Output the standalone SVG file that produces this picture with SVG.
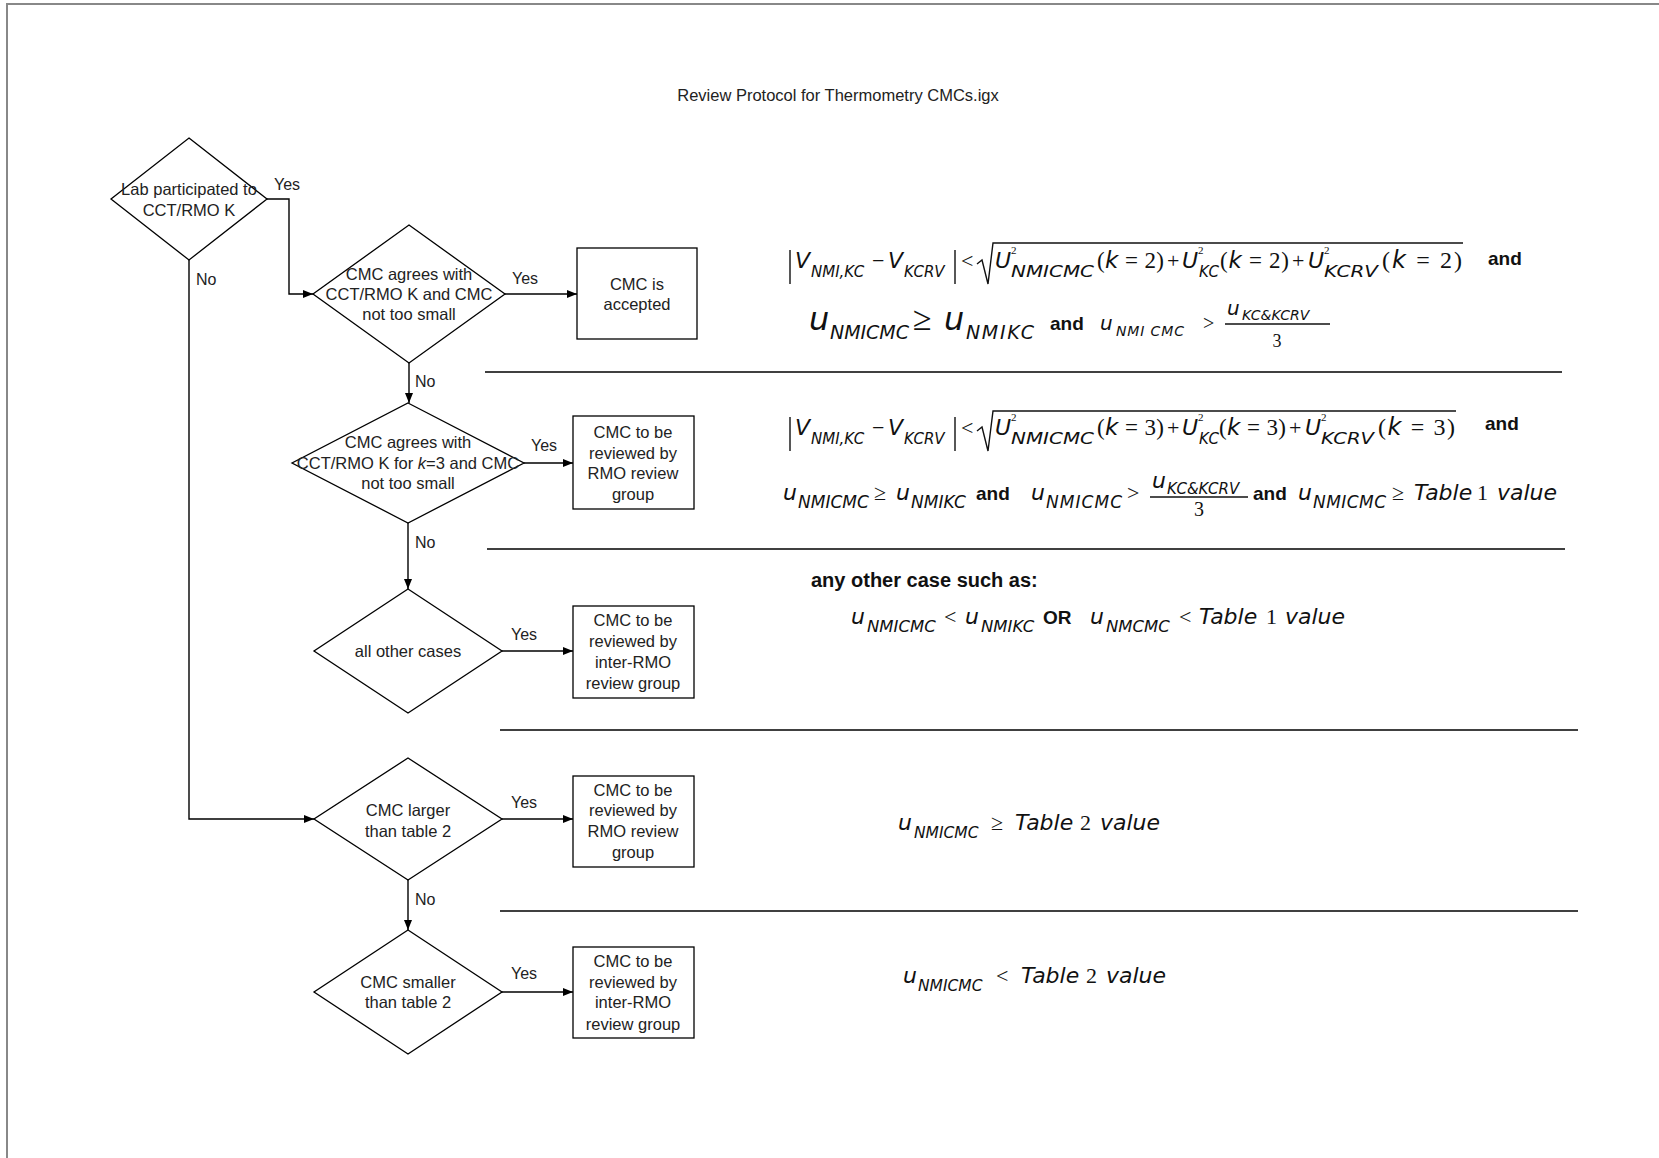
<svg xmlns="http://www.w3.org/2000/svg" width="1659" height="1158" viewBox="0 0 1659 1158">
<defs>
<marker id="arr" markerWidth="10" markerHeight="8" refX="10" refY="4" orient="auto" markerUnits="userSpaceOnUse"><path d="M0,0 L10,4 L0,8 z" fill="#000"/></marker>
<style>
.shape{fill:#fff;stroke:#000;stroke-width:1.3}
.con{fill:none;stroke:#000;stroke-width:1.4}
.sep{stroke:#000;stroke-width:1.6}
.nt{font-family:"Liberation Sans",Arial,sans-serif;font-size:16.5px;fill:#222;text-anchor:middle}
.lb{font-family:"Liberation Sans",Arial,sans-serif;font-size:16px;fill:#222}
.mi{font-family:"DejaVu Sans",Verdana,sans-serif;font-style:italic;fill:#111}
.mn{font-family:"Liberation Serif","Times New Roman",serif;fill:#111}
.b{font-family:"Liberation Sans",Arial,sans-serif;font-weight:bold;font-size:19px;fill:#111}
.rule{fill:none;stroke:#111;stroke-width:1.4}
</style>
</defs>
<rect x="0" y="0" width="1659" height="1158" fill="#fff"/>
<path d="M7,1158 V4 H1659" fill="none" stroke="#888" stroke-width="2"/>
<text x="838" y="101" class="nt">Review Protocol for Thermometry CMCs.igx</text>

<g id="connectors">
<path class="con" d="M267,199 H289 V294 H313" marker-end="url(#arr)"/>
<path class="con" d="M189,260 V819 H314" marker-end="url(#arr)"/>
<path class="con" d="M505,294 H577" marker-end="url(#arr)"/>
<path class="con" d="M409,363 V403" marker-end="url(#arr)"/>
<path class="con" d="M524,463 H573" marker-end="url(#arr)"/>
<path class="con" d="M408,523 V589" marker-end="url(#arr)"/>
<path class="con" d="M502,651 H573" marker-end="url(#arr)"/>
<path class="con" d="M502,819 H573" marker-end="url(#arr)"/>
<path class="con" d="M408,880 V930" marker-end="url(#arr)"/>
<path class="con" d="M502,992 H573" marker-end="url(#arr)"/>
<text class="lb" x="274" y="190">Yes</text>
<text class="lb" x="196" y="285">No</text>
<text class="lb" x="512" y="284">Yes</text>
<text class="lb" x="415" y="387">No</text>
<text class="lb" x="531" y="451">Yes</text>
<text class="lb" x="415" y="548">No</text>
<text class="lb" x="511" y="640">Yes</text>
<text class="lb" x="511" y="808">Yes</text>
<text class="lb" x="415" y="905">No</text>
<text class="lb" x="511" y="979">Yes</text>
</g>

<g id="d1"><path class="shape" d="M189,138 L267,199 L189,260 L111,199 Z"/>
<text class="nt" x="189" y="195">Lab participated to</text><text class="nt" x="189" y="216">CCT/RMO K</text></g>
<g id="d2"><path class="shape" d="M409,225 L505,294 L409,363 L313,294 Z"/>
<text class="nt" x="409" y="280">CMC agrees with</text><text class="nt" x="409" y="300">CCT/RMO K and CMC</text><text class="nt" x="409" y="320">not too small</text></g>
<g id="b2"><rect class="shape" x="577" y="248" width="120" height="91"/>
<text class="nt" x="637" y="290">CMC is</text><text class="nt" x="637" y="310">accepted</text></g>
<g id="d3"><path class="shape" d="M408,403 L524,463 L408,523 L292,463 Z"/>
<text class="nt" x="408" y="448">CMC agrees with</text><text class="nt" x="408" y="469">CCT/RMO K for <tspan font-style="italic">k</tspan>=3 and CMC</text><text class="nt" x="408" y="489">not too small</text></g>
<g id="b3"><rect class="shape" x="573" y="416" width="121" height="93"/>
<text class="nt" x="633" y="438">CMC to be</text><text class="nt" x="633" y="459">reviewed by</text><text class="nt" x="633" y="479">RMO review</text><text class="nt" x="633" y="500">group</text></g>
<g id="d4"><path class="shape" d="M408,589 L502,651 L408,713 L314,651 Z"/>
<text class="nt" x="408" y="657">all other cases</text></g>
<g id="b4"><rect class="shape" x="573" y="606" width="121" height="92"/>
<text class="nt" x="633" y="626">CMC to be</text><text class="nt" x="633" y="647">reviewed by</text><text class="nt" x="633" y="668">inter-RMO</text><text class="nt" x="633" y="689">review group</text></g>
<g id="d5"><path class="shape" d="M408,758 L502,819 L408,880 L314,819 Z"/>
<text class="nt" x="408" y="816">CMC larger</text><text class="nt" x="408" y="837">than table 2</text></g>
<g id="b5"><rect class="shape" x="573" y="776" width="121" height="91"/>
<text class="nt" x="633" y="796">CMC to be</text><text class="nt" x="633" y="816">reviewed by</text><text class="nt" x="633" y="837">RMO review</text><text class="nt" x="633" y="858">group</text></g>
<g id="d6"><path class="shape" d="M408,930 L502,992 L408,1054 L314,992 Z"/>
<text class="nt" x="408" y="988">CMC smaller</text><text class="nt" x="408" y="1008">than table 2</text></g>
<g id="b6"><rect class="shape" x="573" y="947" width="121" height="91"/>
<text class="nt" x="633" y="967">CMC to be</text><text class="nt" x="633" y="988">reviewed by</text><text class="nt" x="633" y="1008">inter-RMO</text><text class="nt" x="633" y="1030">review group</text></g>

<g id="separators">
<line class="sep" x1="485" y1="372" x2="1562" y2="372"/>
<line class="sep" x1="487" y1="549" x2="1565" y2="549"/>
<line class="sep" x1="500" y1="730" x2="1578" y2="730"/>
<line class="sep" x1="500" y1="911" x2="1578" y2="911"/>
</g>

<g id="formula-1">
<path class="rule" d="M790,250 V284 M955,250 V284"/>
<text class="mi" font-size="22" x="795" y="268">V</text>
<text class="mi" font-size="15" x="811" y="277">NMI,KC</text>
<text class="mn" font-size="22" x="872" y="268">−</text>
<text class="mi" font-size="22" x="888" y="268">V</text>
<text class="mi" font-size="15" x="904" y="277">KCRV</text>
<text class="mn" font-size="22" x="961" y="268">&lt;</text>
<path class="rule" d="M977,264 L982,260 L988,284 L993,243 H1463"/>
<text class="mi" font-size="22" x="995" y="268">U</text>
<text class="mn" font-size="11" x="1011" y="254">2</text>
<text class="mi" font-size="16" x="1011" y="277" textLength="83" lengthAdjust="spacingAndGlyphs">NMICMC</text>
<text x="1097" y="268" font-size="23" textLength="67"><tspan class="mn">(</tspan><tspan class="mi">k</tspan><tspan class="mn"> = 2)</tspan></text>
<text class="mn" font-size="22" x="1167" y="268">+</text>
<text class="mi" font-size="22" x="1182" y="268">U</text>
<text class="mn" font-size="11" x="1198" y="254">2</text>
<text class="mi" font-size="15" x="1199" y="277">KC</text>
<text x="1220" y="268" font-size="23" textLength="69"><tspan class="mn">(</tspan><tspan class="mi">k</tspan><tspan class="mn"> = 2)</tspan></text>
<text class="mn" font-size="22" x="1292" y="268">+</text>
<text class="mi" font-size="22" x="1308" y="268">U</text>
<text class="mn" font-size="11" x="1324" y="254">2</text>
<text class="mi" font-size="16" x="1324" y="277" textLength="54" lengthAdjust="spacingAndGlyphs">KCRV</text>
<text x="1382" y="268" font-size="24" textLength="80"><tspan class="mn">(</tspan><tspan class="mi">k</tspan><tspan class="mn"> = 2)</tspan></text>
<text class="b" x="1488" y="265">and</text>
</g>

<g id="formula-2">
<text class="mi" font-size="32" x="809" y="330">u</text>
<text class="mi" font-size="19" x="830" y="339" textLength="79">NMICMC</text>
<text class="mn" font-size="34" x="913" y="330">≥</text>
<text class="mi" font-size="32" x="944" y="330">u</text>
<text class="mi" font-size="19" x="966" y="339" textLength="68">NMIKC</text>
<text class="b" x="1050" y="330">and</text>
<text class="mi" font-size="20" x="1100" y="330">u</text>
<text class="mi" font-size="14" x="1116" y="336" textLength="68">NMI CMC</text>
<text class="mn" font-size="20" x="1203" y="330">&gt;</text>
<text class="mi" font-size="20" x="1227" y="315">u</text>
<text class="mi" font-size="14" x="1242" y="320">KC&amp;KCRV</text>
<line class="rule" x1="1225" y1="324" x2="1330" y2="324"/>
<text class="mn" font-size="18" x="1277" y="347" text-anchor="middle">3</text>
</g>

<g id="formula-3">
<path class="rule" d="M790,417 V451 M955,417 V451"/>
<text class="mi" font-size="22" x="795" y="435">V</text>
<text class="mi" font-size="15" x="811" y="444">NMI,KC</text>
<text class="mn" font-size="22" x="872" y="435">−</text>
<text class="mi" font-size="22" x="888" y="435">V</text>
<text class="mi" font-size="15" x="904" y="444">KCRV</text>
<text class="mn" font-size="22" x="961" y="435">&lt;</text>
<path class="rule" d="M977,431 L982,427 L988,451 L993,411 H1456"/>
<text class="mi" font-size="22" x="995" y="435">U</text>
<text class="mn" font-size="11" x="1011" y="421">2</text>
<text class="mi" font-size="16" x="1011" y="444" textLength="83" lengthAdjust="spacingAndGlyphs">NMICMC</text>
<text x="1097" y="435" font-size="23" textLength="67"><tspan class="mn">(</tspan><tspan class="mi">k</tspan><tspan class="mn"> = 3)</tspan></text>
<text class="mn" font-size="22" x="1167" y="435">+</text>
<text class="mi" font-size="22" x="1182" y="435">U</text>
<text class="mn" font-size="11" x="1198" y="421">2</text>
<text class="mi" font-size="15" x="1199" y="444">KC</text>
<text x="1219" y="435" font-size="23" textLength="67"><tspan class="mn">(</tspan><tspan class="mi">k</tspan><tspan class="mn"> = 3)</tspan></text>
<text class="mn" font-size="22" x="1289" y="435">+</text>
<text class="mi" font-size="22" x="1305" y="435">U</text>
<text class="mn" font-size="11" x="1321" y="421">2</text>
<text class="mi" font-size="16" x="1321" y="444" textLength="53" lengthAdjust="spacingAndGlyphs">KCRV</text>
<text x="1378" y="435" font-size="24" textLength="77"><tspan class="mn">(</tspan><tspan class="mi">k</tspan><tspan class="mn"> = 3)</tspan></text>
<text class="b" x="1485" y="430">and</text>
</g>

<g id="formula-4">
<text class="mi" font-size="22" x="783" y="500">u</text>
<text class="mi" font-size="17" x="798" y="508">NMICMC</text>
<text class="mn" font-size="22" x="874" y="500">≥</text>
<text class="mi" font-size="22" x="896" y="500">u</text>
<text class="mi" font-size="17" x="911" y="508">NMIKC</text>
<text class="b" x="976" y="500">and</text>
<text class="mi" font-size="22" x="1031" y="500">u</text>
<text class="mi" font-size="17" x="1046" y="508" textLength="76">NMICMC</text>
<text class="mn" font-size="22" x="1127" y="500">&gt;</text>
<text class="mi" font-size="22" x="1152" y="488">u</text>
<text class="mi" font-size="15" x="1167" y="494">KC&amp;KCRV</text>
<line class="rule" x1="1150" y1="497" x2="1248" y2="497"/>
<text class="mn" font-size="20" x="1199" y="516" text-anchor="middle">3</text>
<text class="b" x="1253" y="500">and</text>
<text class="mi" font-size="22" x="1298" y="500">u</text>
<text class="mi" font-size="17" x="1313" y="508" textLength="73">NMICMC</text>
<text class="mn" font-size="22" x="1392" y="500">≥</text>
<text class="mi" font-size="22" x="1414" y="500">Table</text>
<text class="mn" font-size="22" x="1477" y="500">1</text>
<text class="mi" font-size="22" x="1497" y="500">value</text>
</g>

<g id="formula-5">
<text class="b" x="811" y="587" style="font-size:20px">any other case such as:</text>
<text class="mi" font-size="22" x="851" y="624">u</text>
<text class="mi" font-size="16.5" x="867" y="632">NMICMC</text>
<text class="mn" font-size="22" x="944" y="624">&lt;</text>
<text class="mi" font-size="22" x="965" y="624">u</text>
<text class="mi" font-size="16.5" x="981" y="632">NMIKC</text>
<text class="b" x="1043" y="624">OR</text>
<text class="mi" font-size="22" x="1090" y="624">u</text>
<text class="mi" font-size="16.5" x="1106" y="632">NMCMC</text>
<text class="mn" font-size="22" x="1179" y="624">&lt;</text>
<text class="mi" font-size="22" x="1199" y="624">Table</text>
<text class="mn" font-size="22" x="1266" y="624">1</text>
<text class="mi" font-size="22" x="1285" y="624">value</text>
</g>

<g id="formula-6">
<text class="mi" font-size="22" x="898" y="830">u</text>
<text class="mi" font-size="15.5" x="914" y="838">NMICMC</text>
<text class="mn" font-size="22" x="991" y="830">≥</text>
<text class="mi" font-size="22" x="1015" y="830">Table</text>
<text class="mn" font-size="22" x="1080" y="830">2</text>
<text class="mi" font-size="22" x="1100" y="830">value</text>
</g>

<g id="formula-7">
<text class="mi" font-size="22" x="903" y="983">u</text>
<text class="mi" font-size="15.5" x="918" y="991">NMICMC</text>
<text class="mn" font-size="22" x="996" y="983">&lt;</text>
<text class="mi" font-size="22" x="1021" y="983">Table</text>
<text class="mn" font-size="22" x="1086" y="983">2</text>
<text class="mi" font-size="22" x="1106" y="983">value</text>
</g>
</svg>
